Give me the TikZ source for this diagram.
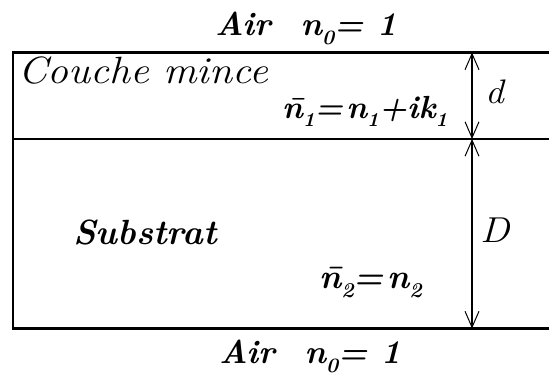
\documentclass[tikz,border=0pt]{standalone}
\usepackage{fontspec}
\usepackage{graphicx}
\usetikzlibrary{arrows.meta}
\newcommand\lowsub[1]{\raisebox{-0.28em}{\scalebox{0.62}{#1}}}
\newcommand\nbar{\=n}
\newcommand\wide[1]{\scalebox{1.1}[1]{#1}}
\newcommand\eqsp{=\hspace{0.1em}}
\tikzset{
  lbl/.style={inner sep=0pt, anchor=base west},
  bolditf/.style={font=\fontsize{#1}{#1}\selectfont\bfseries\itshape},
  itf/.style={font=\fontsize{#1}{#1}\selectfont\itshape},
  border/.style={line width=2.5pt},
  dim/.style={line width=1.6pt, {Straight Barb[length=16pt,width=14pt,line width=1pt]}-{Straight Barb[length=16pt,width=14pt,line width=1pt]}}
}
\begin{document}
\begin{tikzpicture}[x=1pt,y=-1pt]
\useasboundingbox (0,0) rectangle (549,383);
% layer boundaries
\coordinate (tl) at (13,52.5);
\coordinate (tr) at (560,52.5);
\coordinate (ml) at (13,139);
\coordinate (mr) at (560,139);
\coordinate (bl) at (13,328.5);
\coordinate (br) at (560,328.5);
\draw[border] (tr) -- (tl) -- (bl) -- (br);
\draw[border] (ml) -- (mr);
% dimension arrows
\coordinate (at) at (472,52.5);
\coordinate (am) at (472,139);
\coordinate (ab) at (472,328.5);
\draw[dim] (at) -- (am);
\draw[dim] (am) -- (ab);
% texts
\node[lbl, bolditf=33] (airtop) at (215,35) {Air\hspace{30pt}n\lowsub{0}= 1};
\node[lbl, itf=38] (couche) at (18,83) {\wide{Couche mince}};
\node[lbl, bolditf=32] (n1) at (282,118) {\nbar\lowsub{1}\eqsp n\lowsub{1}+ik\lowsub{1}};
\node[lbl, bolditf=35] (sub) at (73,244) {Substrat};
\node[lbl, bolditf=34] (n2) at (319,288) {\nbar\lowsub{2}\eqsp n\lowsub{2}};
\node[lbl, bolditf=33] (airbot) at (219,363) {Air\hspace{30pt}n\lowsub{0}= 1};
\node[lbl, itf=34] (d) at (485,103) {\wide{d}};
\node[lbl, itf=36] (D) at (480,242) {\wide{D}};
\end{tikzpicture}
\end{document}
